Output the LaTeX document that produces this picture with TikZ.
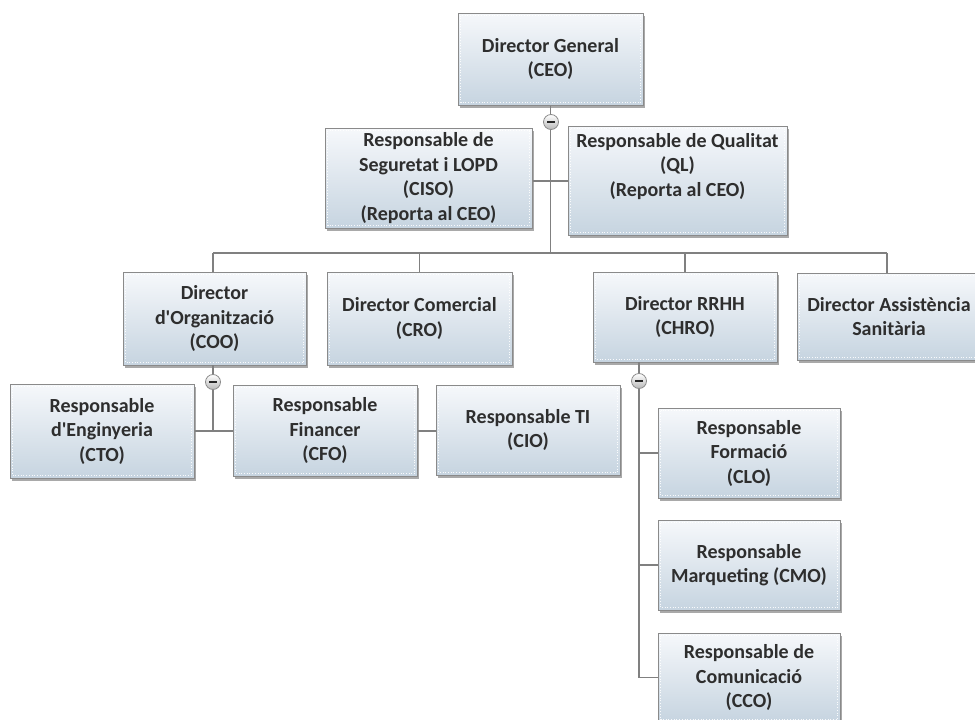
\documentclass[tikz,border=0pt]{standalone}
\usepackage{fontspec}
\setmainfont{Carlito}
\usetikzlibrary{shadows,calc}

\definecolor{boxtop}{HTML}{F6F8FB}
\definecolor{boxbot}{HTML}{C6D4E0}
\definecolor{boxline}{HTML}{8A8A8A}
\definecolor{linkgray}{HTML}{808080}
\definecolor{inkdark}{HTML}{2E2E2E}

\tikzset{
  orgbox/.style={
    draw=boxline, line width=1pt, top color=boxtop, bottom color=boxbot,
    inner sep=0pt, align=center, text=inkdark,
    font=\fontsize{20}{24.5}\selectfont\bfseries,
    drop shadow={shadow xshift=2.2pt, shadow yshift=-2.5pt, opacity=0.45, fill=black!75},
    path picture={
      \draw[white, dotted, line width=0.7pt, opacity=0.9]
        ([shift={(2.5pt,-2.5pt)}]path picture bounding box.north west)
        rectangle ([shift={(-2.5pt,2.5pt)}]path picture bounding box.south east);
    }
  },
  link/.style={draw=linkgray, line width=1.2pt},
  toggle/.style={
    circle, minimum size=15pt, inner sep=0pt, draw=black!45, line width=0.8pt,
    top color=white, bottom color=black!28,
    path picture={
      \fill[black!85]
        ([shift={(-3.6pt,-1.1pt)}]path picture bounding box.center)
        rectangle ([shift={(3.6pt,1.1pt)}]path picture bounding box.center);
    }
  }
}

% box from its corners (x1,y1) to (x2,y2), in pixel units
\newcommand\orgbox[6]{%
  \node[orgbox, minimum width={(#4-#2)*1pt}, minimum height={(#5-#3)*1pt}]
    (#1) at ({(#2+#4)/2},{(#3+#5)/2}) {#6};}

\begin{document}
\begin{tikzpicture}[x=1pt,y=-1pt]
\useasboundingbox (0,0) rectangle (975,720);

% boxes
\orgbox{ceo}{458}{13}{643}{105}{Director General\\(CEO)}
\orgbox{ciso}{325}{128}{532}{228}{Responsable de\\Seguretat i LOPD\\(CISO)\\(Reporta al CEO)}
\orgbox{ql}{568}{126}{787}{235}{Responsable de Qualitat\\(QL)\\(Reporta al CEO)\\\strut}
\orgbox{coo}{123}{272}{306}{365}{Director\\d\textquotesingle Organització\\(COO)}
\orgbox{cro}{327}{272}{512}{365}{Director Comercial\\(CRO)}
\orgbox{chro}{593}{272}{777}{362}{Director RRHH\\(CHRO)}
\orgbox{das}{797}{273}{981}{360}{Director Assistència\\Sanitària}
\orgbox{cto}{10}{384}{194}{478}{Responsable\\d\textquotesingle Enginyeria\\(CTO)}
\orgbox{cfo}{233}{385}{417}{476}{Responsable\\Financer\\(CFO)}
\orgbox{cio}{436}{385}{620}{475}{Responsable TI\\(CIO)}
\orgbox{clo}{658}{408}{840}{498}{Responsable\\Formació\\(CLO)}
\orgbox{cmo}{658}{520}{840}{610}{Responsable\\Marqueting (CMO)}
\orgbox{cco}{658}{633}{840}{722}{Responsable de\\Comunicació\\(CCO)}

% junction points
\coordinate (bus) at (0,253);
\coordinate (staff) at (0,181);
\coordinate (cooline) at (213,365);
\coordinate (coorow) at (0,431);
\coordinate (hrline) at (639,362);

% CEO trunk and staff posts
\draw[link] (ceo.south) -- (ceo.south |- bus);
\draw[link] (ciso.east |- staff) -- (ql.west |- staff);

% directors bus
\draw[link] (213,253) -- (887,253);
\draw[link] (213,253) -- (213,272);
\draw[link] (cro.north |- bus) -- (cro.north);
\draw[link] (chro.north |- bus) -- (chro.north);
\draw[link] (887,253) -- (887,273);

% COO branch
\draw[link] (cooline) -- (cooline |- coorow);
\draw[link] (cto.east |- coorow) -- (cfo.west |- coorow);
\draw[link] (cfo.east |- coorow) -- (cio.west |- coorow);

% CHRO branch
\draw[link] (hrline) -- (hrline |- cco.west);
\draw[link] (hrline |- clo.west) -- (clo.west);
\draw[link] (hrline |- cmo.west) -- (cmo.west);
\draw[link] (hrline |- cco.west) -- (cco.west);

% collapse markers
\node[toggle] (tgceo) at (551,122) {};
\node[toggle] (tgcoo) at (213,382) {};
\node[toggle] (tgchro) at (639,381) {};
\end{tikzpicture}
\end{document}
